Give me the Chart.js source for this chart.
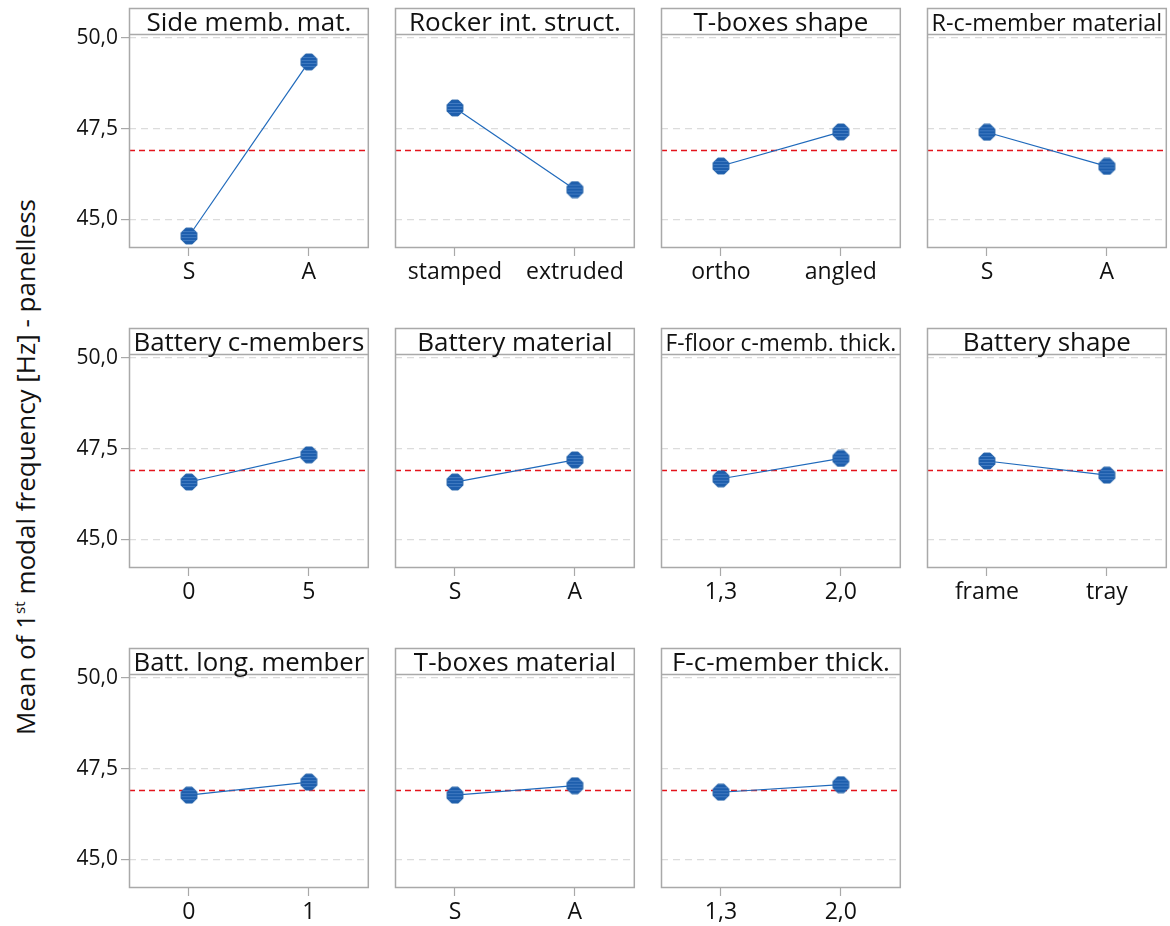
<!DOCTYPE html>
<html>
<head>
<meta charset="utf-8">
<title>Main effects plot - 1st modal frequency</title>
<script src="https://cdn.jsdelivr.net/npm/chart.js@4.4.1/dist/chart.umd.min.js"></script>
<style>
    html, body {
        margin: 0;
        padding: 0;
        background: #ffffff;
        width: 1170px;
        height: 926px;
        overflow: hidden;
        font-family: 'Open Sans', sans-serif;
    }
    #grid {
        position: relative;
        width: 1170px;
        height: 926px;
    }
    #grid canvas {
        position: absolute;
    }
    #yTitle {
        position: absolute;
        left: 25px;
        top: 467px;
        transform: translate(-50%, -50%) rotate(-90deg);
        white-space: nowrap;
        font-size: 26px;
        color: #111111;
    }
    #yTitle sup {
        font-size: 15px;
        vertical-align: 10px;
        line-height: 0;
    }
</style>
</head>
<body>
<div id="grid">
    <div id="yTitle">Mean of 1<sup>st</sup> modal frequency [Hz] - panelless</div>
</div>

<script>
// Factors, their two levels and the mean response at each level
const factorTitles = [
    'Side memb. mat.', 'Rocker int. struct.', 'T-boxes shape', 'R-c-member material',
    'Battery c-members', 'Battery material', 'F-floor c-memb. thick.', 'Battery shape',
    'Batt. long. member', 'T-boxes material', 'F-c-member thick.'
];
const factorLevels = [
    ['S', 'A'], ['stamped', 'extruded'], ['ortho', 'angled'], ['S', 'A'],
    ['0', '5'], ['S', 'A'], ['1,3', '2,0'], ['frame', 'tray'],
    ['0', '1'], ['S', 'A'], ['1,3', '2,0']
];
const levelMeans = [
    [44.54, 49.34], [48.07, 45.82], [46.47, 47.41], [47.40, 46.46],
    [46.58, 47.33], [46.58, 47.19], [46.67, 47.23], [47.16, 46.77],
    [46.77, 47.13], [46.77, 47.03], [46.85, 47.06]
];
const grandMean = 46.9;
const yTicks = [45.0, 47.5, 50.0];
const yRange = [44.21, 50.11];

const COLS = 4;
const PANEL_W = 244;
const PANEL_STEP_X = 266;
const PANEL_STEP_Y = 320;
const AXIS_W = 80;
const TITLE_H = 26;

const FRAME_COLOR = '#a9a9a9';

function fmtComma(v) {
    return v.toFixed(1).replace('.', ',');
}

// octagon marker with faint horizontal banding
function makeMarker() {
    const c = document.createElement('canvas');
    c.width = 18;
    c.height = 18;
    const g = c.getContext('2d');
    const r = 8.6, cx = 9, cy = 9;
    g.beginPath();
    for (let i = 0; i < 8; i++) {
        const a = Math.PI / 8 + i * Math.PI / 4;
        const px = cx + r * Math.cos(a);
        const py = cy + r * Math.sin(a);
        if (i === 0) g.moveTo(px, py); else g.lineTo(px, py);
    }
    g.closePath();
    g.fillStyle = '#1d5ead';
    g.fill();
    g.save();
    g.clip();
    g.fillStyle = 'rgba(110, 160, 220, 0.45)';
    [4, 7, 10, 13].forEach(y => g.fillRect(0, y, 18, 1));
    g.restore();
    g.lineWidth = 1;
    g.strokeStyle = '#2a66aa';
    g.stroke();
    return c;
}

const marker = makeMarker();

// frame round the plot area plus the boxed panel heading
const panelFrame = {
    id: 'panelFrame',
    afterDraw(chart, args, opts) {
        const { ctx, chartArea } = chart;
        const l = chartArea.left + 0.5;
        const r = chartArea.right - 0.5;
        const t = chartArea.top + 0.5;
        const b = chartArea.bottom - 0.5;
        ctx.save();
        ctx.strokeStyle = FRAME_COLOR;
        ctx.lineWidth = 1.5;
        ctx.strokeRect(l, t - TITLE_H, r - l, b - t + TITLE_H);
        ctx.beginPath();
        ctx.moveTo(l, t);
        ctx.lineTo(r, t);
        ctx.stroke();

        // heading shrinks when it would not fit the box
        let size = 26;
        ctx.font = `${size}px 'Open Sans', sans-serif`;
        const maxW = (r - l) - 8;
        const w = ctx.measureText(opts.text).width;
        if (w > maxW) {
            size = size * maxW / w;
            ctx.font = `${size}px 'Open Sans', sans-serif`;
        }
        ctx.fillStyle = '#111111';
        ctx.textAlign = 'center';
        ctx.textBaseline = 'alphabetic';
        ctx.fillText(opts.text, (l + r) / 2, t - 3.5);
        ctx.restore();
    }
};

function buildPanel(idx) {
    const col = idx % COLS;
    const row = Math.floor(idx / COLS);
    const showY = col === 0;

    const canvas = document.createElement('canvas');
    canvas.width = AXIS_W + PANEL_W + 6;
    canvas.height = 300;
    canvas.style.left = (129 + col * PANEL_STEP_X - AXIS_W) + 'px';
    canvas.style.top = (row * PANEL_STEP_Y) + 'px';
    document.getElementById('grid').appendChild(canvas);

    const levels = factorLevels[idx];
    const means = levelMeans[idx];

    return new Chart(canvas.getContext('2d'), {
        type: 'line',
        data: {
            datasets: [
                {
                    data: means.map((m, i) => ({ x: i, y: m })),
                    borderColor: '#1f69bb',
                    borderWidth: 1.2,
                    pointStyle: marker,
                    pointRadius: 9,
                    pointHoverRadius: 9,
                    tension: 0,
                    fill: false
                },
                {
                    data: [{ x: -0.5, y: grandMean }, { x: 1.5, y: grandMean }],
                    borderColor: '#e3141c',
                    borderWidth: 1.5,
                    borderDash: [6, 4],
                    pointRadius: 0,
                    fill: false
                }
            ]
        },
        options: {
            responsive: false,
            animation: false,
            events: [],
            layout: {
                padding: { top: 34, right: 6, bottom: 0, left: 0 }
            },
            plugins: {
                legend: { display: false },
                tooltip: { enabled: false },
                panelFrame: { text: factorTitles[idx] }
            },
            scales: {
                x: {
                    type: 'linear',
                    min: -0.5,
                    max: 1.5,
                    afterBuildTicks: (scale) => {
                        scale.ticks = levels.map((_, i) => ({ value: i }));
                    },
                    afterFit: (scale) => { scale.height = 52; },
                    ticks: {
                        callback: (v) => levels[v],
                        color: '#111111',
                        font: { family: "'Open Sans', sans-serif", size: 23 },
                        padding: 3,
                        maxRotation: 0
                    },
                    grid: {
                        drawOnChartArea: false,
                        drawTicks: true,
                        tickLength: 8,
                        tickColor: FRAME_COLOR,
                        tickWidth: 1.2
                    },
                    border: { display: false }
                },
                y: {
                    type: 'linear',
                    min: yRange[0],
                    max: yRange[1],
                    afterBuildTicks: (scale) => {
                        scale.ticks = yTicks.map(v => ({ value: v }));
                    },
                    afterFit: (scale) => { scale.width = AXIS_W; },
                    ticks: {
                        display: showY,
                        callback: (v) => fmtComma(v),
                        color: '#111111',
                        font: { family: "'Open Sans', sans-serif", size: 21 },
                        padding: 3
                    },
                    grid: {
                        color: '#dcdcdc',
                        lineWidth: 1.2,
                        drawTicks: showY,
                        tickLength: 8,
                        tickColor: FRAME_COLOR,
                        tickWidth: 1.2,
                        tickBorderDash: []
                    },
                    border: { display: false, dash: [7, 5] }
                }
            }
        },
        plugins: [panelFrame]
    });
}

factorTitles.forEach((_, i) => buildPanel(i));
</script>
</body>
</html>
